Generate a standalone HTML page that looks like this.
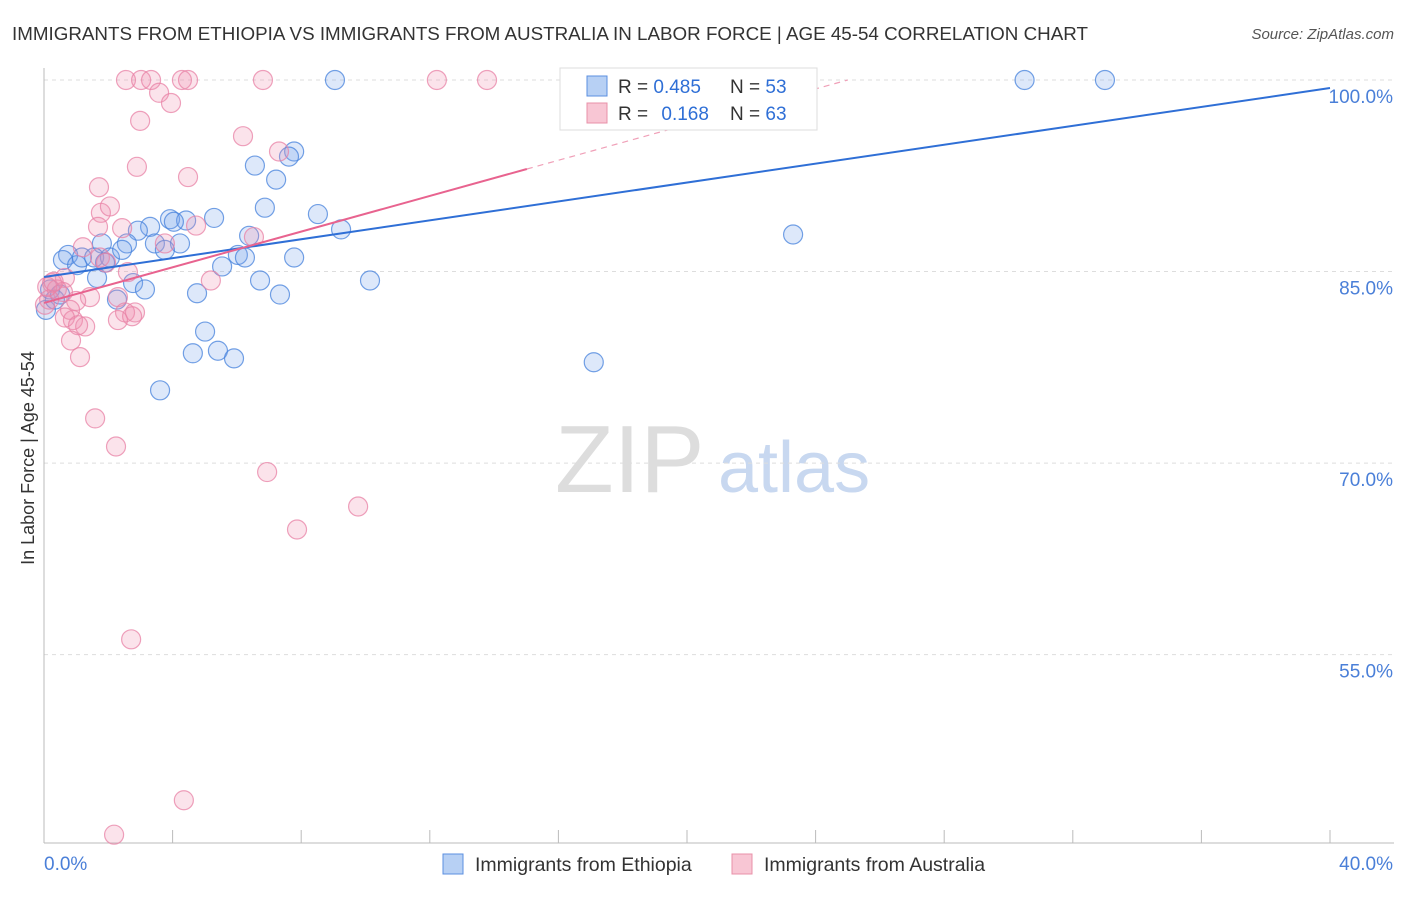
<!DOCTYPE html>
<html><head><meta charset="utf-8"><style>
body{margin:0;background:#fff;font-family:"Liberation Sans",sans-serif;}
svg text{font-family:"Liberation Sans",sans-serif;}
</style></head><body>
<svg id="chart" width="1406" height="892">
<text x="12" y="40" font-size="18.8" fill="#333">IMMIGRANTS FROM ETHIOPIA VS IMMIGRANTS FROM AUSTRALIA IN LABOR FORCE | AGE 45-54 CORRELATION CHART</text>
<text x="1394" y="39" font-size="15" fill="#555" font-style="italic" text-anchor="end">Source: ZipAtlas.com</text>
<text x="34" y="458" font-size="18" fill="#333" text-anchor="middle" transform="rotate(-90 34 458)">In Labor Force | Age 45-54</text>
<text x="555" y="492" font-size="96" fill="#ddd" font-family="Liberation Serif">ZIP</text>
<text x="718" y="492" font-size="72" fill="#c8d8f0">atlas</text>
<g id="grid"></g><g id="pts"></g><g id="lines"></g>
<g>
<rect x="560" y="68" width="257" height="62" fill="#fff" stroke="#ddd"/>
<rect x="587" y="76" width="20" height="20" fill="#b7d0f4" stroke="#5b8fe0"/>
<rect x="587" y="103" width="20" height="20" fill="#f8c6d4" stroke="#e890a8"/>
<text x="618" y="93" font-size="19" fill="#333">R = <tspan fill="#2f6fd6">0.485</tspan><tspan x="730">N = </tspan><tspan fill="#2f6fd6">53</tspan></text>
<text x="618" y="120" font-size="19" fill="#333">R = <tspan fill="#2f6fd6" dx="8">0.168</tspan><tspan x="730">N = </tspan><tspan fill="#2f6fd6">63</tspan></text>
</g>
<g>
<rect x="443" y="854" width="20" height="20" fill="#b7d0f4" stroke="#5b8fe0"/>
<text x="475" y="871" font-size="19.5" fill="#333">Immigrants from Ethiopia</text>
<rect x="732" y="854" width="20" height="20" fill="#f8c6d4" stroke="#e890a8"/>
<text x="764" y="871" font-size="19.5" fill="#333">Immigrants from Australia</text>
</g>
<text x="44" y="870" font-size="19" fill="#4a7fd8">0.0%</text>
<text x="1393" y="870" font-size="19" fill="#4a7fd8" text-anchor="end">40.0%</text>
</svg>
<script>
const yTicks=[100,85,70,55];
const yTickLabels=["100.0%","85.0%","70.0%","55.0%"];
const xTicks=[0,4,8,12,16,20,24,28,32,36,40];
const ethX=[9.05,30.5,33.0,7.78,7.62,6.56,7.22,6.87,8.52,5.29,3.92,4.42,4.04,3.30,2.92,9.24,6.38,1.80,3.45,4.23,2.58,0.75,0.59,1.03,1.18,1.56,2.05,2.43,3.76,6.03,6.25,7.78,5.54,1.65,2.77,3.14,6.72,10.14,7.34,4.76,2.27,5.01,4.63,5.41,5.91,3.61,17.1,23.3,0.06,0.19,0.34,0.5,1.9];
const ethY=[100,100,100,94.4,94.0,93.3,92.2,90.0,89.5,89.2,89.1,89.0,88.9,88.5,88.2,88.3,87.8,87.2,87.2,87.2,87.2,86.3,85.9,85.5,86.1,86.1,86.1,86.7,86.7,86.3,86.1,86.1,85.4,84.5,84.1,83.6,84.3,84.3,83.2,83.3,82.8,80.3,78.6,78.8,78.2,75.7,77.9,87.9,82.0,83.6,82.8,83.2,85.7];
const ausX=[2.55,3.02,3.33,4.29,4.48,6.81,12.22,13.78,3.58,3.95,2.99,2.89,6.19,4.48,1.71,1.77,2.05,2.43,1.68,4.73,6.53,7.31,1.21,3.76,1.74,1.93,2.61,5.19,0.65,0.25,0.40,0.59,0.16,1.43,2.30,1.0,0.81,0.90,0.65,1.28,1.06,2.52,2.83,2.74,2.30,0.84,1.12,1.59,2.24,6.94,7.87,9.77,2.71,4.35,2.18,0.03,0.1,0.3];
const ausY=[100,100,100,100,100,100,100,100,99.0,98.2,96.8,93.2,95.6,92.4,91.6,89.6,90.1,88.4,88.5,88.6,87.7,94.4,86.9,87.2,86.1,85.7,84.96,84.3,84.5,84.1,83.6,83.4,82.8,83.0,83.0,82.7,82.0,81.2,81.4,80.7,80.8,81.8,81.8,81.5,81.2,79.6,78.3,73.5,71.3,69.3,64.8,66.6,56.2,43.6,40.9,82.4,83.8,84.2];
const ethTrend=[84.57,99.37];
const ausTrend=[82.54,93.03,15.02];
const X=v=>44+v*32.15, Y=v=>80+(100-v)*12.77;
const NS="http://www.w3.org/2000/svg";
function mk(t,a,p){const e=document.createElementNS(NS,t);for(const k in a)e.setAttribute(k,a[k]);document.getElementById(p).appendChild(e);return e;}
yTicks.forEach((t,i)=>{
 const l=mk('line',{x1:44,x2:1394,y1:Y(t),y2:Y(t),stroke:'#ddd','stroke-dasharray':'4,4'},'grid');
 
 
 const tx=mk('text',{x:1393,y:Y(t)+23,'font-size':19,fill:'#4a7fd8','text-anchor':'end'},'grid');
 tx.textContent=yTickLabels[i];
 
 
});
const ax=mk('line',{x1:44,x2:44,y1:68,y2:843,stroke:'#bbb'},'grid');


const bx=mk('line',{x1:44,x2:1394,y1:843,y2:843,stroke:'#bbb'},'grid');


xTicks.forEach(t=>{const l=mk('line',{x1:X(t),x2:X(t),y1:830,y2:843,stroke:'#bbb'},'grid');
 
 });
ethX.forEach((v,i)=>{const c=mk('circle',{cx:X(v),cy:Y(ethY[i]),r:9.5,fill:'rgba(120,165,235,0.25)',stroke:'rgba(70,130,220,0.75)','stroke-width':1.2},'pts');
 
 });
ausX.forEach((v,i)=>{const c=mk('circle',{cx:X(v),cy:Y(ausY[i]),r:9.5,fill:'rgba(240,145,175,0.25)',stroke:'rgba(232,130,165,0.75)','stroke-width':1.2},'pts');
 
 });
const bl=mk('line',{x1:X(0),y1:Y(ethTrend[0]),x2:X(40),y2:Y(ethTrend[1]),stroke:'#2f6fd6','stroke-width':2},'lines');


const sl=(ausTrend[1]-ausTrend[0])/ausTrend[2];
const pl=mk('line',{x1:X(0),y1:Y(ausTrend[0]),x2:X(ausTrend[2]),y2:Y(ausTrend[1]),stroke:'#e8638f','stroke-width':2},'lines');


const xe=(100-ausTrend[0])/sl;
const pd=mk('line',{x1:X(ausTrend[2]),y1:Y(ausTrend[1]),x2:X(xe),y2:Y(100),stroke:'#f0a0b8','stroke-width':1.2,'stroke-dasharray':'6,5'},'lines');


</script>
</body></html>
